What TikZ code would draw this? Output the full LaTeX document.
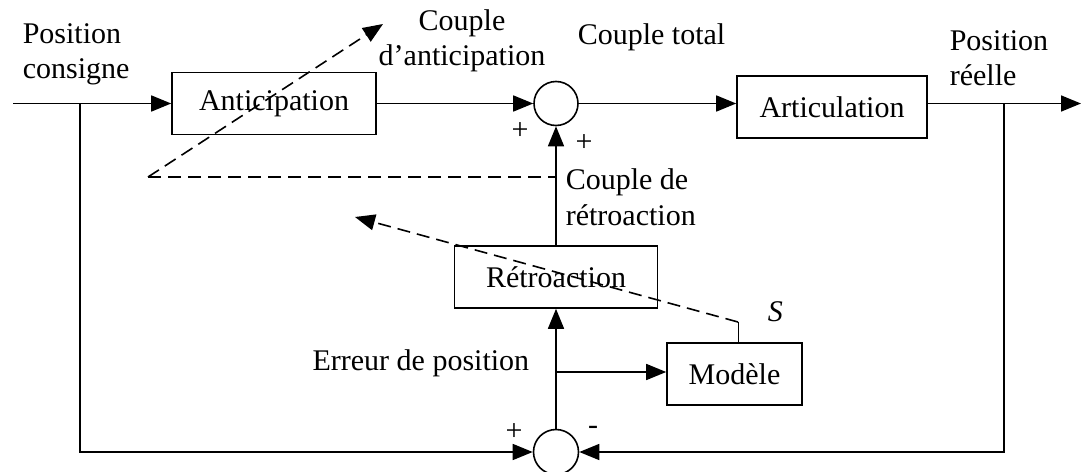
\documentclass[tikz,border=0pt]{standalone}
\usepackage{fontspec}
\setmainfont{Liberation Serif}
\usetikzlibrary{arrows.meta}
\begin{document}
\begin{tikzpicture}[x=0.5pt,y=-0.5pt,
  line width=0.8pt,
  txt/.style={font=\fontsize{15}{18}\selectfont},
  blk/.style={draw, txt, inner sep=0pt, minimum height=31pt},
  sumc/.style={draw, circle, inner sep=0pt},
  arr/.style={-{Triangle[length=10pt,width=8pt]}},
  dsh/.style={dash pattern=on 6.5pt off 3.5pt},
  lbl/.style={txt, inner sep=0pt, anchor=base west},
  lblc/.style={txt, inner sep=0pt, anchor=base},
  sgn/.style={txt, inner sep=0pt},
]
\useasboundingbox (0,0) rectangle (1081,471);

% blocks
\node[blk, minimum width=102pt] (ant) at (274,103.5) {Anticipation};
\node[blk, minimum width=95pt] (art) at (832,107) {Articulation};
\node[blk, minimum width=101.5pt] (ret) at (556,277) {Rétroaction};
\node[blk, minimum width=67.5pt] (mod) at (734.5,374) {Modèle};
\node[sumc, minimum size=22pt] (sum1) at (556,103.5) {};
\node[sumc, minimum size=22.5pt] (sum2) at (556,452) {};

% coordinates
\coordinate (in) at (13,103.5);
\coordinate (b1) at (80,103.5);
\coordinate (b2) at (1004,103.5);
\coordinate (out) at (1081,103.5);
\coordinate (b3) at (556,372);
\coordinate (s) at (738,322);
\coordinate (d1) at (148,177);
\coordinate (d1e) at (556,177);
\coordinate (d1t) at (383,24);
\coordinate (d2t) at (355,217);

% connectors
\draw[arr] (in) -- (ant.west);
\draw[arr] (b1) |- (sum2.west);
\draw[arr] (ant.east) -- (sum1.west);
\draw[arr] (sum1.east) -- (sum1.east -| art.west);
\draw[arr] (sum1.east -| art.east) -- (out);
\draw[arr] (b2) |- (sum2.east);
\draw[arr] (sum2.north) -- (ret.south);
\draw[arr] (ret.north) -- (sum1.south);
\draw[arr] (b3) -- (b3 -| mod.west);
\draw[line width=0.5pt] (mod.north -| s) -- (s);

% dashed
\draw[dsh] (d1) -- (d1e);
\draw[dsh, arr] (d1) -- (d1t);
\draw[dsh, arr] (s) -- (d2t);

% labels
\node[lbl] (pc1) at (22,43) {Position};
\node[lbl] (pc2) at (22,78) {consigne};
\node[lblc] (ca1) at (462,30) {Couple};
\node[lblc] (ca2) at (462,65) {d’anticipation};
\node[lbl] (ct) at (577,44) {Couple total};
\node[lbl] (pr1) at (949,50) {Position};
\node[lbl] (pr2) at (949,85) {réelle};
\node[lbl] (cr1) at (565,189) {Couple de};
\node[lbl] (cr2) at (565,225) {rétroaction};
\node[txt, inner sep=0pt, anchor=base east] (ep) at (530,370) {Erreur de position};
\node[lbl] (sl) at (767,321) {\textit{S}};
\node[sgn] (p1) at (520,131) {+};
\node[sgn] (p2) at (584,143) {+};
\node[sgn] (p3) at (514,432) {+};
\node[sgn] (m1) at (593,430) {-};
\end{tikzpicture}
\end{document}
